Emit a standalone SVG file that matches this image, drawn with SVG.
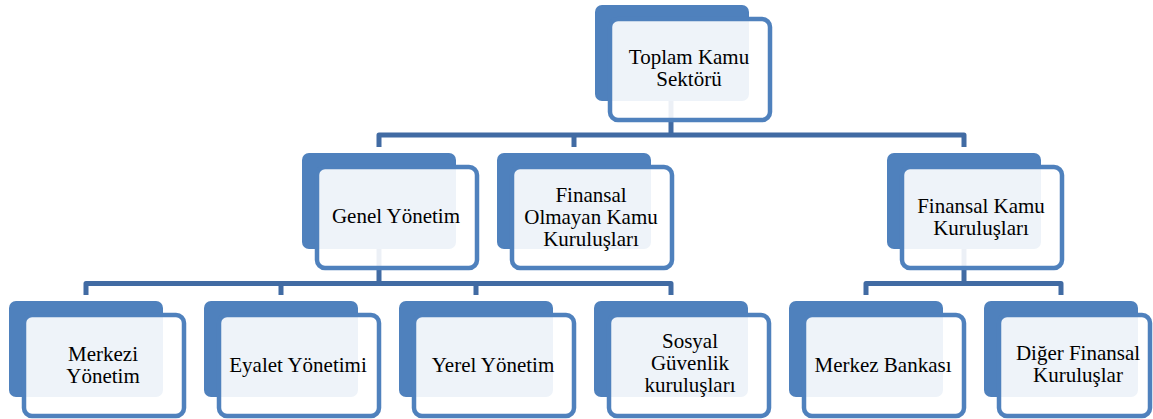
<svg xmlns="http://www.w3.org/2000/svg" width="1153" height="419" viewBox="0 0 1153 419">
<style>
.back{fill:#4F81BD;}
.front{fill:#FFFFFF;fill-opacity:0.9;stroke:#4F81BD;stroke-width:4.5;}
.conn{fill:none;stroke:#416BA3;stroke-width:5;stroke-linejoin:round;}
text{font-family:"Liberation Serif","Times New Roman",serif;font-size:21px;fill:#000;text-anchor:middle;}
</style>
<rect width="1153" height="419" fill="#FFFFFF"/>
<g id="connectors">
<path class="conn" d="M671,100 V135"/>
<path class="conn" d="M379,147 V135 H964 V147"/>
<path class="conn" d="M574,135 V147"/>
<path class="conn" d="M379,249 V283.5"/>
<path class="conn" d="M86,295 V283.5 H671 V295"/>
<path class="conn" d="M281,283.5 V295 M476,283.5 V295"/>
<path class="conn" d="M964,249 V283.5"/>
<path class="conn" d="M866,295 V283.5 H1061 V295"/>
</g>
<g id="n-toplam">
<rect class="back" x="595" y="5" width="154" height="96" rx="7"/>
<rect class="front" x="610" y="19" width="160" height="101" rx="8"/>
<text x="689" y="64">Toplam Kamu</text>
<text x="689" y="86">Sektörü</text>
</g>
<g id="n-genel">
<rect class="back" x="302" y="153" width="154" height="96" rx="7"/>
<rect class="front" x="317" y="167" width="160" height="101" rx="8"/>
<text x="396" y="223">Genel Yönetim</text>
</g>
<g id="n-finolm">
<rect class="back" x="497" y="153" width="154" height="96" rx="7"/>
<rect class="front" x="512" y="167" width="160" height="101" rx="8"/>
<text x="591" y="202">Finansal</text>
<text x="591" y="224">Olmayan Kamu</text>
<text x="591" y="246">Kuruluşları</text>
</g>
<g id="n-finkamu">
<rect class="back" x="887" y="153" width="154" height="96" rx="7"/>
<rect class="front" x="902" y="167" width="160" height="101" rx="8"/>
<text x="981" y="213">Finansal Kamu</text>
<text x="981" y="235">Kuruluşları</text>
</g>
<g id="n-merkezi">
<rect class="back" x="9" y="301" width="154" height="96" rx="7"/>
<rect class="front" x="24" y="315" width="160" height="101" rx="8"/>
<text x="103" y="361">Merkezi</text>
<text x="103" y="383">Yönetim</text>
</g>
<g id="n-eyalet">
<rect class="back" x="204" y="301" width="154" height="96" rx="7"/>
<rect class="front" x="219" y="315" width="160" height="101" rx="8"/>
<text x="298" y="372">Eyalet Yönetimi</text>
</g>
<g id="n-yerel">
<rect class="back" x="399" y="301" width="154" height="96" rx="7"/>
<rect class="front" x="414" y="315" width="160" height="101" rx="8"/>
<text x="493" y="372">Yerel Yönetim</text>
</g>
<g id="n-sosyal">
<rect class="back" x="594" y="301" width="154" height="96" rx="7"/>
<rect class="front" x="609" y="315" width="160" height="101" rx="8"/>
<text x="690" y="348">Sosyal</text>
<text x="690" y="370">Güvenlik</text>
<text x="690" y="392">kuruluşları</text>
</g>
<g id="n-merkezbank">
<rect class="back" x="789" y="301" width="154" height="96" rx="7"/>
<rect class="front" x="804" y="315" width="160" height="101" rx="8"/>
<text x="883" y="372">Merkez Bankası</text>
</g>
<g id="n-diger">
<rect class="back" x="984" y="301" width="154" height="96" rx="7"/>
<rect class="front" x="999" y="315" width="151" height="101" rx="8"/>
<text x="1078" y="360">Diğer Finansal</text>
<text x="1078" y="382">Kuruluşlar</text>
</g>
</svg>
